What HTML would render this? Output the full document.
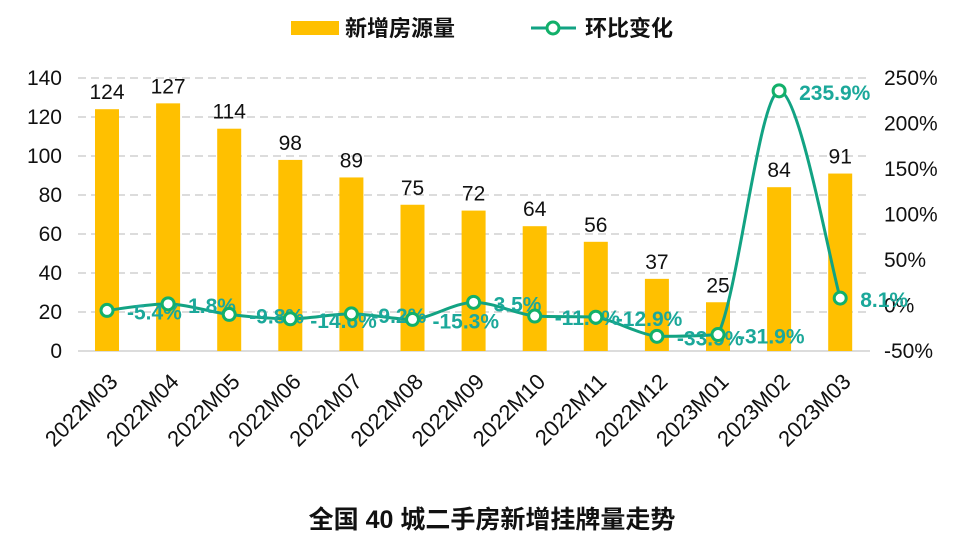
<!DOCTYPE html>
<html><head><meta charset="utf-8"><style>
body{margin:0;background:#fff;font-family:"Liberation Sans","Noto Sans CJK SC",sans-serif;}
</style></head><body>
<svg id="c" width="973" height="554" xmlns="http://www.w3.org/2000/svg" font-family="Liberation Sans, Noto Sans CJK SC, sans-serif"></svg>
<script>
const categories=["2022M03","2022M04","2022M05","2022M06","2022M07","2022M08","2022M09","2022M10","2022M11","2022M12","2023M01","2023M02","2023M03"];
const supply=[124,127,114,98,89,75,72,64,56,37,25,84,91];
const mom=[-5.4,1.8,-9.8,-14.6,-9.2,-15.3,3.5,-11.6,-12.9,-33.9,-31.9,235.9,8.1];
const leftTicks=[0,20,40,60,80,100,120,140];
const rightTicks=[-50,0,50,100,150,200,250];
const svg=document.getElementById('c');const NS='http://www.w3.org/2000/svg';
function mk(t,a,p){const e=document.createElementNS(NS,t);for(const k in a)e.setAttribute(k,a[k]);(p||svg).appendChild(e);return e;}
const y0=351,y1=78;
const yL=v=>y0-(v/140)*(y0-y1);
const yR=v=>y0-((v+50)/300)*(y0-y1);
const x=i=>107+i*61.1;
leftTicks.forEach(t=>{if(t>0){const g=mk('line',{x1:78,x2:870,y1:yL(t),y2:yL(t),stroke:'#d0d0d0','stroke-dasharray':'8,5','stroke-width':1.5});}
const l=mk('text',{x:62,y:yL(t)+7,'text-anchor':'end','font-size':21,fill:'#111'});l.textContent=t;});
rightTicks.forEach(t=>{const l=mk('text',{x:884,y:yR(t)+7,'font-size':21,fill:'#111'});l.textContent=t+'%';});
const ax=mk('line',{x1:78,x2:870,y1:y0,y2:y0,stroke:'#d0d0d0','stroke-width':1.5});
supply.forEach((v,i)=>{const r=mk('rect',{x:x(i)-12,y:yL(v),width:24,height:y0-yL(v),fill:'#ffc000'});
const t=mk('text',{x:x(i),y:yL(v)-10,'text-anchor':'middle','font-size':21,fill:'#111'});t.textContent=v;
const c=mk('text',{transform:`translate(${x(i)+12},${y0+32}) rotate(-45)`,'text-anchor':'end','font-size':22,fill:'#111'});c.textContent=categories[i];});
const pts=mom.map((v,i)=>[x(i),yR(v)]);
let d='M'+pts[0][0]+','+pts[0][1];
const cl=(v,a,b)=>Math.max(Math.min(a,b),Math.min(Math.max(a,b),v));
for(let i=0;i<pts.length-1;i++){const p0=pts[Math.max(i-1,0)],p1=pts[i],p2=pts[i+1],p3=pts[Math.min(i+2,pts.length-1)];const k=1/6;
const c1y=cl(p1[1]+(p2[1]-p0[1])*k,p1[1],p2[1]),c2y=cl(p2[1]-(p3[1]-p1[1])*k,p1[1],p2[1]);
d+=` C${p1[0]+(p2[0]-p0[0])*k},${c1y} ${p2[0]-(p3[0]-p1[0])*k},${c2y} ${p2[0]},${p2[1]}`;}
const ln=mk('path',{d:d,fill:'none',stroke:'#12a383','stroke-width':3});
pts.forEach((p,i)=>{const c=mk('circle',{cx:p[0],cy:p[1],r:6,fill:'#fff',stroke:'#12b06a','stroke-width':3});
const t=mk('text',{x:p[0]+20,y:p[1]+9,'font-size':21,'font-weight':'bold',fill:'#1ba89a'});t.textContent=mom[i]+'%';});
const lg=mk('g',{});
mk('rect',{x:291,y:21,width:48,height:14,fill:'#ffc000'},lg);
const t1=mk('text',{x:345,y:36,'font-size':22,'font-weight':'bold',fill:'#111'},lg);t1.textContent='新增房源量';
mk('line',{x1:531,x2:576,y1:28,y2:28,stroke:'#12a383','stroke-width':3},lg);
mk('circle',{cx:553,cy:28,r:6,fill:'#fff',stroke:'#12b06a','stroke-width':3},lg);
const t2=mk('text',{x:585,y:36,'font-size':22,'font-weight':'bold',fill:'#111'},lg);t2.textContent='环比变化';
const tt=mk('text',{x:492,y:528,'text-anchor':'middle','font-size':25,'font-weight':'bold',fill:'#111'});tt.textContent='全国 40 城二手房新增挂牌量走势';
</script></body></html>
